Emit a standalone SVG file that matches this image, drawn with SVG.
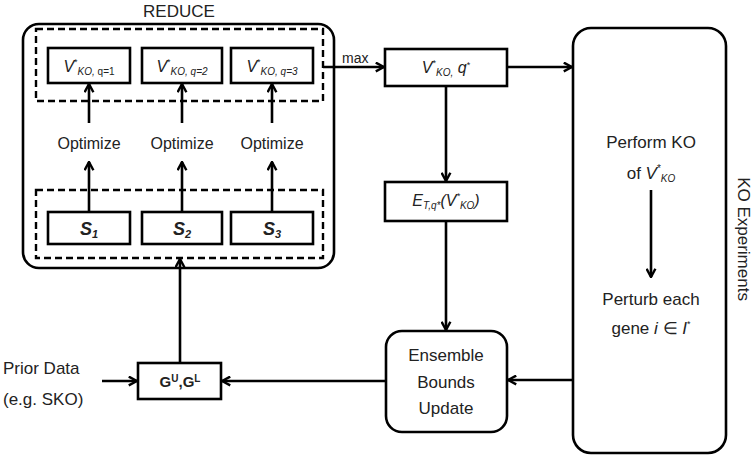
<svg xmlns="http://www.w3.org/2000/svg" width="755" height="457" viewBox="0 0 755 457">
<style>
text { font-family: "Liberation Sans", Arial, sans-serif; fill: #222; }
.box { fill: #fff; stroke: #000; stroke-width: 2.6; }
.dash { fill: none; stroke: #000; stroke-width: 2.4; stroke-dasharray: 7,4; }
.conn line { stroke: #000; stroke-width: 2.6; marker-end: url(#arr); }
.it { font-style: italic; }
</style>
<defs>
<marker id="arr" viewBox="0 0 10 10" refX="9" refY="5" markerWidth="11" markerHeight="11" markerUnits="userSpaceOnUse" orient="auto">
<path d="M1.5,1 L9,5 L1.5,9" fill="none" stroke="#000" stroke-width="2.2"/>
</marker>
</defs>
<rect width="755" height="457" fill="#fff"/>

<g id="reduce">
<rect class="box" x="23" y="24" width="311" height="244" rx="16"/>
<text x="179" y="17" font-size="17" text-anchor="middle">REDUCE</text>
<rect class="dash" x="36" y="29" width="287" height="72"/>
<rect class="dash" x="36" y="190" width="287" height="68"/>
</g>

<g id="v1">
<rect class="box" x="48" y="48" width="82" height="35"/>
<text x="89" y="72" text-anchor="middle"><tspan class="it" font-size="16">V</tspan><tspan font-size="9" dy="-7">*</tspan><tspan class="it" font-size="10" dy="10">KO, </tspan><tspan font-size="10">q=1</tspan></text>
</g>
<g id="v2">
<rect class="box" x="142" y="48" width="80" height="35"/>
<text x="182" y="72" text-anchor="middle"><tspan class="it" font-size="16">V</tspan><tspan font-size="9" dy="-7">*</tspan><tspan class="it" font-size="10" dy="10">KO, q=2</tspan></text>
</g>
<g id="v3">
<rect class="box" x="231" y="48" width="82" height="35"/>
<text x="272" y="72" text-anchor="middle"><tspan class="it" font-size="16">V</tspan><tspan font-size="9" dy="-7">*</tspan><tspan class="it" font-size="10" dy="10">KO, q=3</tspan></text>
</g>

<g id="opt1"><text x="89" y="149" font-size="16" text-anchor="middle">Optimize</text></g>
<g id="opt2"><text x="182" y="149" font-size="16" text-anchor="middle">Optimize</text></g>
<g id="opt3"><text x="272" y="149" font-size="16" text-anchor="middle">Optimize</text></g>

<g id="s1">
<rect class="box" x="48" y="212" width="82" height="32"/>
<text x="89" y="235" text-anchor="middle" font-weight="bold" class="it"><tspan font-size="18">S</tspan><tspan font-size="11" dy="3">1</tspan></text>
</g>
<g id="s2">
<rect class="box" x="142" y="212" width="80" height="32"/>
<text x="182" y="235" text-anchor="middle" font-weight="bold" class="it"><tspan font-size="18">S</tspan><tspan font-size="11" dy="3">2</tspan></text>
</g>
<g id="s3">
<rect class="box" x="231" y="212" width="82" height="32"/>
<text x="272" y="235" text-anchor="middle" font-weight="bold" class="it"><tspan font-size="18">S</tspan><tspan font-size="11" dy="3">3</tspan></text>
</g>

<g id="vstar">
<rect class="box" x="385" y="49" width="122" height="37"/>
<text x="446" y="73" text-anchor="middle"><tspan class="it" font-size="16">V</tspan><tspan font-size="9" dy="-7">*</tspan><tspan class="it" font-size="10" dy="10">KO,</tspan><tspan class="it" font-size="16" dy="-3">  q</tspan><tspan font-size="9" dy="-5">*</tspan></text>
</g>

<g id="etq">
<rect class="box" x="385" y="182" width="122" height="39"/>
<text x="446" y="206" text-anchor="middle" class="it"><tspan font-size="16">E</tspan><tspan font-size="10" dy="3">T,q*</tspan><tspan font-size="16" dy="-3">(V</tspan><tspan font-size="9" dy="-7">*</tspan><tspan font-size="10" dy="10">KO</tspan><tspan font-size="16" dy="-3">)</tspan></text>
</g>

<g id="g">
<rect class="box" x="138" y="363" width="83" height="36"/>
<text x="180" y="387" text-anchor="middle" font-weight="bold"><tspan font-size="15">G</tspan><tspan font-size="10" dy="-5">U</tspan><tspan font-size="15" dy="5">,G</tspan><tspan font-size="10" dy="-5">L</tspan></text>
</g>

<g id="prior">
<text x="3" y="374" font-size="17">Prior Data</text>
<text x="3" y="405" font-size="17">(e.g. SKO)</text>
</g>

<g id="ensemble">
<rect class="box" x="386" y="331" width="121" height="101" rx="16"/>
<text x="446" y="361" font-size="17" text-anchor="middle">Ensemble</text>
<text x="446" y="388" font-size="17" text-anchor="middle">Bounds</text>
<text x="446" y="414" font-size="17" text-anchor="middle">Update</text>
</g>

<g id="koexp">
<rect class="box" x="573" y="28" width="153" height="425" rx="18"/>
<text x="651" y="148" font-size="17" text-anchor="middle">Perform KO</text>
<text x="651" y="179" font-size="17" text-anchor="middle">of <tspan class="it">V</tspan><tspan font-size="10" dy="-7">*</tspan><tspan class="it" font-size="10" dy="10">KO</tspan></text>
<text x="651" y="305" font-size="17" text-anchor="middle">Perturb each</text>
<text x="651" y="334" font-size="17" text-anchor="middle">gene <tspan class="it">i</tspan>  ∈ <tspan class="it">I</tspan><tspan font-size="9" dy="-7">*</tspan></text>
<text transform="translate(738,239) rotate(90)" font-size="17" text-anchor="middle">KO Experiments</text>
</g>

<g id="connectors" class="conn">
<line x1="89" y1="123" x2="89" y2="84"/>
<line x1="182" y1="123" x2="182" y2="84"/>
<line x1="272" y1="123" x2="272" y2="84"/>
<line x1="89" y1="212" x2="89" y2="162"/>
<line x1="182" y1="212" x2="182" y2="162"/>
<line x1="272" y1="212" x2="272" y2="162"/>
<line x1="180" y1="363" x2="180" y2="259"/>
<line x1="102" y1="381" x2="137" y2="381"/>
<line x1="386" y1="381" x2="222" y2="381"/>
<line x1="323" y1="67" x2="384" y2="67"/>
<line x1="507" y1="67" x2="572" y2="67"/>
<line x1="446" y1="86" x2="446" y2="181"/>
<line x1="446" y1="221" x2="446" y2="330"/>
<line x1="573" y1="380" x2="508" y2="380"/>
<line x1="651" y1="190" x2="651" y2="277"/>
<text x="342" y="63" font-size="14">max</text>
</g>
</svg>
